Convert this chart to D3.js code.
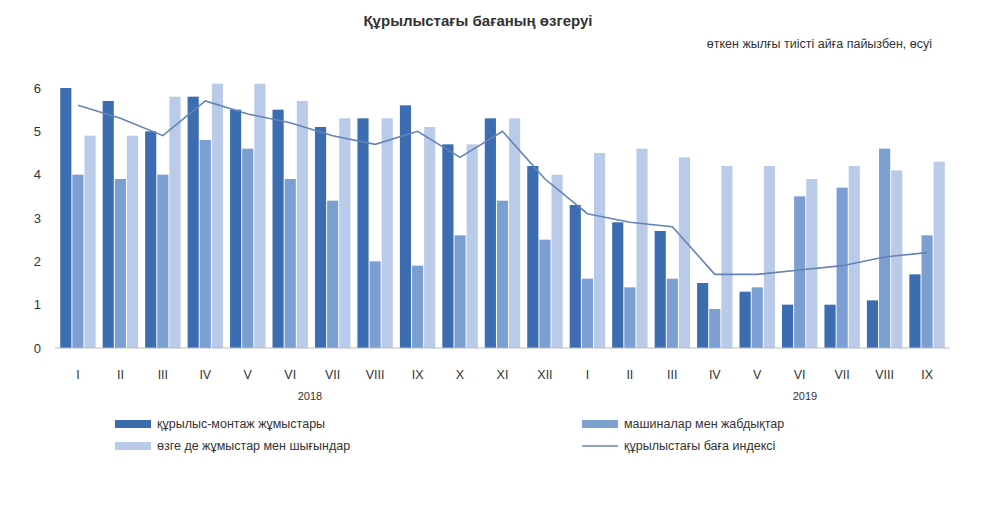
<!DOCTYPE html><html><head><meta charset="utf-8"><script src="https://cdn.jsdelivr.net/npm/d3@7"></script>
<style>body{margin:0;background:#fff}text{font-family:"Liberation Sans",Arial,sans-serif}</style></head><body><svg id="c" width="1000" height="515"></svg><script>
const months=["I","II","III","IV","V","VI","VII","VIII","IX","X","XI","XII","I","II","III","IV","V","VI","VII","VIII","IX"];
const construction=[6.0,5.7,5.0,5.8,5.5,5.5,5.1,5.3,5.6,4.7,5.3,4.2,3.3,2.9,2.7,1.5,1.3,1.0,1.0,1.1,1.7];
const machinery=[4.0,3.9,4.0,4.8,4.6,3.9,3.4,2.0,1.9,2.6,3.4,2.5,1.6,1.4,1.6,0.9,1.4,3.5,3.7,4.6,2.6];
const other=[4.9,4.9,5.8,6.1,6.1,5.7,5.3,5.3,5.1,4.7,5.3,4.0,4.5,4.6,4.4,4.2,4.2,3.9,4.2,4.1,4.3];
const index=[5.6,5.3,4.9,5.7,5.4,5.2,4.9,4.7,5.0,4.4,5.0,3.9,3.1,2.9,2.8,1.7,1.7,1.8,1.9,2.1,2.2];
const yTicks=[0,1,2,3,4,5,6];
const svg=d3.select("#c");
const x=d3.scaleBand().domain(d3.range(21)).range([55,950]).paddingInner(0.12).paddingOuter(0.1);
const y=d3.scaleLinear().domain([0,6]).range([348,88]);
const colors=["#3b6db0","#7c9fd2","#b9cbe8"];
const sub=d3.scaleBand().domain([0,1,2]).range([0,x.bandwidth()]).padding(0.08);
svg.append("text").attr("x",478).attr("y",26).attr("text-anchor","middle").attr("font-weight","bold").attr("font-size",15).attr("fill","#333").text("Құрылыстағы бағаның өзгеруі");
svg.append("text").attr("x",932).attr("y",48).attr("text-anchor","end").attr("font-size",12.5).attr("fill","#333").text("өткен жылғы тиісті айға пайызбен, өсуі");
const ya=svg.append("g").attr("transform","translate(47,0)").call(d3.axisLeft(y).tickValues(yTicks).tickSize(0).tickPadding(6).tickFormat(d3.format("d")));
ya.select(".domain").remove();ya.selectAll("text").attr("font-size",13).attr("fill","#333");
[construction,machinery,other].forEach((s,k)=>{
 svg.append("g").selectAll("rect").data(s).join("rect").attr("x",(d,i)=>x(i)+sub(k)).attr("y",d=>y(d)).attr("width",sub.bandwidth()).attr("height",d=>y(0)-y(d)).attr("fill",colors[k]);
});
svg.append("line").attr("x1",55).attr("x2",950).attr("y1",348).attr("y2",348).attr("stroke","#bbb");
svg.append("path").datum(index).attr("fill","none").attr("stroke","#6583b4").attr("stroke-width",1.6)
 .attr("d",d3.line().x((d,i)=>x(i)+x.bandwidth()/2).y(d=>y(d)));
svg.append("g").selectAll("text").data(months).join("text").attr("x",(d,i)=>x(i)+x.bandwidth()/2).attr("y",379).attr("text-anchor","middle").attr("font-size",12.5).attr("fill","#333").text(d=>d);
svg.append("text").attr("x",310).attr("y",400).attr("text-anchor","middle").attr("font-size",11).attr("fill","#333").text("2018");
svg.append("text").attr("x",805).attr("y",400).attr("text-anchor","middle").attr("font-size",11).attr("fill","#333").text("2019");
const leg=[["құрылыс-монтаж жұмыстары",115,425,0],["машиналар мен жабдықтар",582,425,1],["өзге де жұмыстар мен шығындар",115,447,2],["құрылыстағы баға индексі",582,447,3]];
leg.forEach(([t,lx,ly,k])=>{
 if(k<3) svg.append("rect").attr("x",lx).attr("y",ly-5).attr("width",36).attr("height",8).attr("fill",colors[k]);
 else svg.append("line").attr("x1",lx).attr("x2",lx+36).attr("y1",ly-1).attr("y2",ly-1).attr("stroke","#6583b4").attr("stroke-width",1.6);
 svg.append("text").attr("x",lx+42).attr("y",ly+3).attr("font-size",12.5).attr("fill","#333").text(t);
});
</script></body></html>
